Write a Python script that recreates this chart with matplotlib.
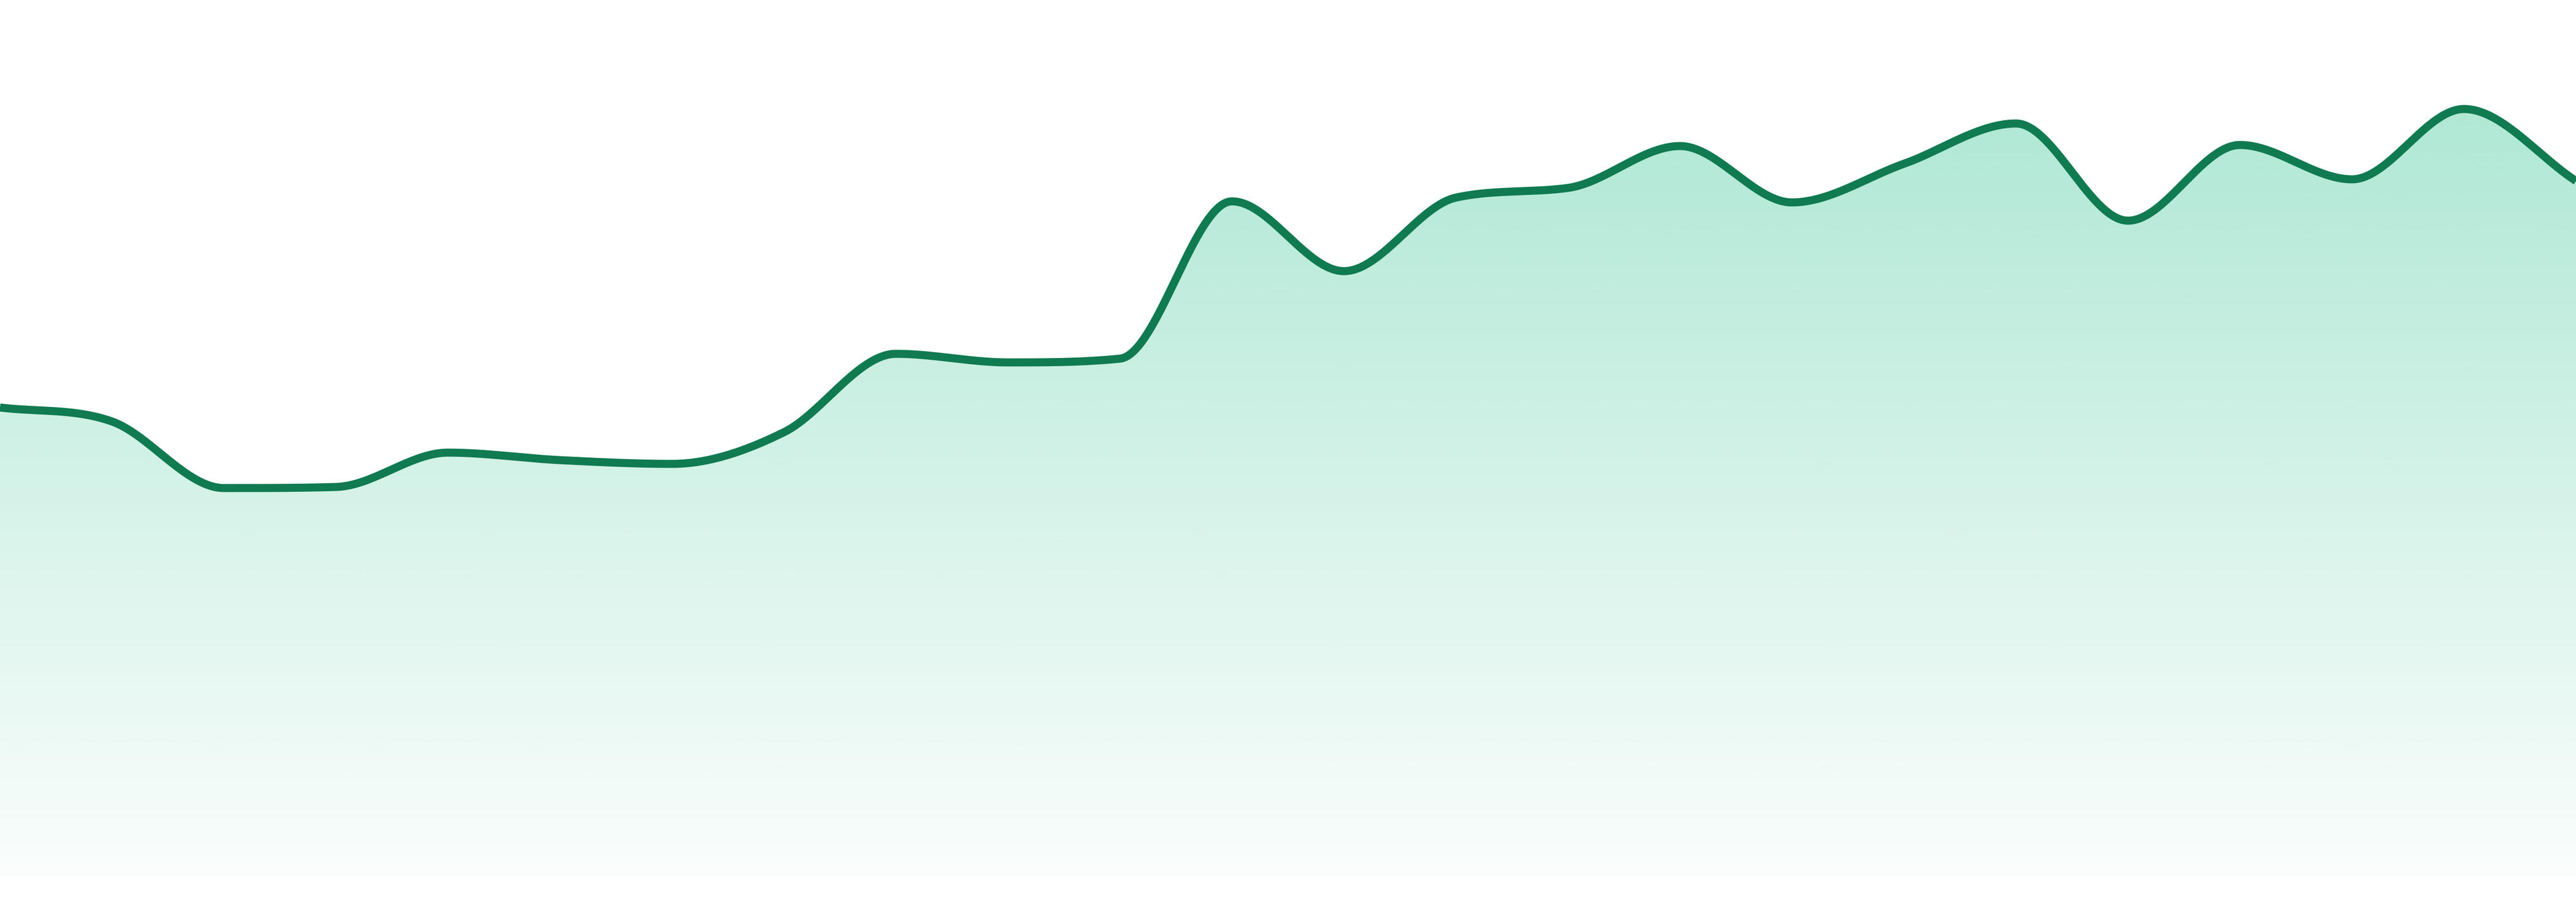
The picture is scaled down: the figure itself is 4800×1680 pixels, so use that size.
import numpy as np
import matplotlib
matplotlib.use("Agg")
import matplotlib.pyplot as plt

# values (one point per step, 24 steps)
steps = list(range(24))
values = [87.3, 84.7, 72.3, 72.5, 78.9, 77.5, 76.8, 82.7, 97.3, 95.7, 96.4, 125.7,
          112.7, 126.4, 128.2, 136.0, 125.5, 132.7, 140.2, 122.1, 136.2, 129.8, 142.9, 129.5]
y_max = 163.2

line_color = "#107a50"
fill_rgb = (16 / 255, 185 / 255, 129 / 255)


def monotone(xs, ys, per_seg=60):
    # Fritsch-Carlson monotone cubic, same idea as chart.js 'monotone'
    xs = np.asarray(xs, float)
    ys = np.asarray(ys, float)
    n = len(xs)
    h = np.diff(xs)
    d = np.diff(ys) / h
    m = np.zeros(n)
    m[0] = d[0]
    m[-1] = d[-1]
    for k in range(1, n - 1):
        if d[k - 1] * d[k] > 0:
            m[k] = (d[k - 1] + d[k]) / 2
    for k in range(n - 1):
        if d[k] == 0:
            m[k] = m[k + 1] = 0
            continue
        a = m[k] / d[k]
        b = m[k + 1] / d[k]
        s = a * a + b * b
        if s > 9:
            t = 3 / np.sqrt(s)
            m[k] = t * a * d[k]
            m[k + 1] = t * b * d[k]
    px, py = [], []
    for k in range(n - 1):
        t = np.linspace(0, 1, per_seg, endpoint=(k == n - 2))
        h00 = 2 * t**3 - 3 * t**2 + 1
        h10 = t**3 - 2 * t**2 + t
        h01 = -2 * t**3 + 3 * t**2
        h11 = t**3 - t**2
        px.append(xs[k] + t * h[k])
        py.append(h00 * ys[k] + h10 * h[k] * m[k] + h01 * ys[k + 1] + h11 * h[k] * m[k + 1])
    return np.concatenate(px), np.concatenate(py)


sx, sy = monotone(steps, values)

fig = plt.figure(figsize=(48, 16.8), dpi=100)
ax = fig.add_axes([0, 48 / 1680, 1, 1632 / 1680])
ax.set_xlim(steps[0], steps[-1])
ax.set_ylim(0, y_max)
ax.axis("off")

# vertical gradient, clipped to the area under the curve
grad = np.zeros((256, 1, 4))
grad[:, 0, :3] = fill_rgb
grad[:, 0, 3] = np.linspace(0.38, 0.02, 256)
img = ax.imshow(grad, extent=[steps[0], steps[-1], 0, y_max], aspect="auto",
                origin="upper", interpolation="bilinear", zorder=1)
area = ax.fill_between(sx, sy, 0, facecolor="none", edgecolor="none")
clip = area.get_paths()[0]
img.set_clip_path(clip, transform=ax.transData)

ax.plot(sx, sy, color=line_color, linewidth=10.8, solid_capstyle="butt",
        solid_joinstyle="round", zorder=2)

fig.savefig("out.png", dpi=100, facecolor="white")
